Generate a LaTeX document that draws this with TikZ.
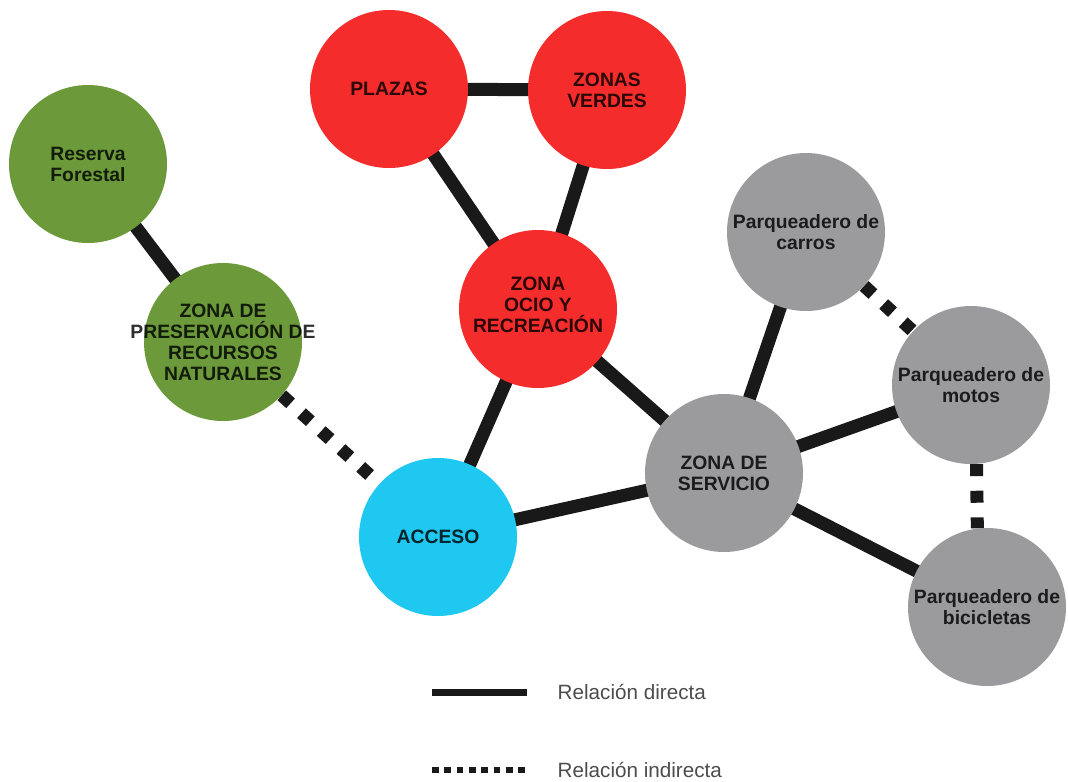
\documentclass[tikz,border=0pt]{standalone}
\usepackage{fontspec}
\setmainfont{Liberation Sans}
\usetikzlibrary{backgrounds}

\definecolor{verde}{RGB}{108,154,58}
\definecolor{rojo}{RGB}{244,44,44}
\definecolor{celeste}{RGB}{30,200,240}
\definecolor{gris}{RGB}{155,155,158}

\tikzset{
  zona/.style={circle,minimum size=118.5pt,inner sep=0pt},
  texto/.style={align=center,inner sep=0pt,text=black,text opacity=0.82,
    font=\bfseries\fontsize{14.5}{15.8}\selectfont},
  directa/.style={line width=9.75pt,black!90},
  indirecta/.style={line width=9.75pt,black!90,dash pattern=on 9pt off 11pt},
  leyenda/.style={anchor=west,text=black!70,font=\fontsize{15.5}{17}\selectfont}
}

\begin{document}
\begin{tikzpicture}[x=0.75pt,y=-0.75pt]
  \useasboundingbox (0,0) rectangle (1068,782);
  % zonas
  \node[zona,fill=verde,label={[texto]center:Reserva\\Forestal}] (reserva) at (88,164) {};
  \node[zona,fill=verde,label={[texto]center:ZONA DE\\PRESERVACIÓN DE\\RECURSOS\\NATURALES}] (preserv) at (223,342) {};
  \node[zona,fill=rojo,label={[texto]center:PLAZAS}] (plazas) at (389,89) {};
  \node[zona,fill=rojo,label={[texto]center:ZONAS\\VERDES}] (verdes) at (607,90) {};
  \node[zona,fill=rojo,label={[texto,yshift=3pt]center:ZONA\\OCIO Y\\RECREACIÓN}] (ocio) at (538,309) {};
  \node[zona,fill=celeste,label={[texto]center:ACCESO}] (acceso) at (438,537) {};
  \node[zona,fill=gris,label={[texto]center:ZONA DE\\SERVICIO}] (servicio) at (724,473) {};
  \node[zona,fill=gris,label={[texto]center:Parqueadero de\\carros}] (carros) at (806,232) {};
  \node[zona,fill=gris,label={[texto]center:Parqueadero de\\motos}] (motos) at (971,385) {};
  \node[zona,fill=gris,label={[texto]center:Parqueadero de\\bicicletas}] (bici) at (987,607) {};
  % relaciones
  \begin{scope}[on background layer]
    \draw[directa] (reserva.center) -- (preserv.center);
    \draw[directa] (plazas.center) -- (verdes.center);
    \draw[directa] (plazas.center) -- (ocio.center);
    \draw[directa] (verdes.center) -- (ocio.center);
    \draw[directa] (ocio.center) -- (acceso.center);
    \draw[directa] (ocio.center) -- (servicio.center);
    \draw[directa] (acceso.center) -- (servicio.center);
    \draw[directa] (servicio.center) -- (carros.center);
    \draw[directa] (servicio.center) -- (motos.center);
    \draw[directa] (servicio.center) -- (bici.center);
    \draw[indirecta] (preserv) -- (acceso);
    \draw[indirecta] (carros) -- (motos);
    \draw[indirecta] (motos.-86) -- (bici.97);
  \end{scope}
  % leyenda
  \coordinate (d1) at (432,692);
  \coordinate (d2) at (527,692);
  \coordinate (i1) at (432,770);
  \coordinate (i2) at (525,770);
  \draw[line width=5.25pt,black!90] (d1) -- (d2);
  \draw[line width=5pt,black!90,dash pattern=on 5pt off 4.25pt] (i1) -- (i2);
  \node[leyenda] (tdir) at (553,692) {Relación directa};
  \node[leyenda] (tind) at (553,770) {Relación indirecta};
\end{tikzpicture}
\end{document}
